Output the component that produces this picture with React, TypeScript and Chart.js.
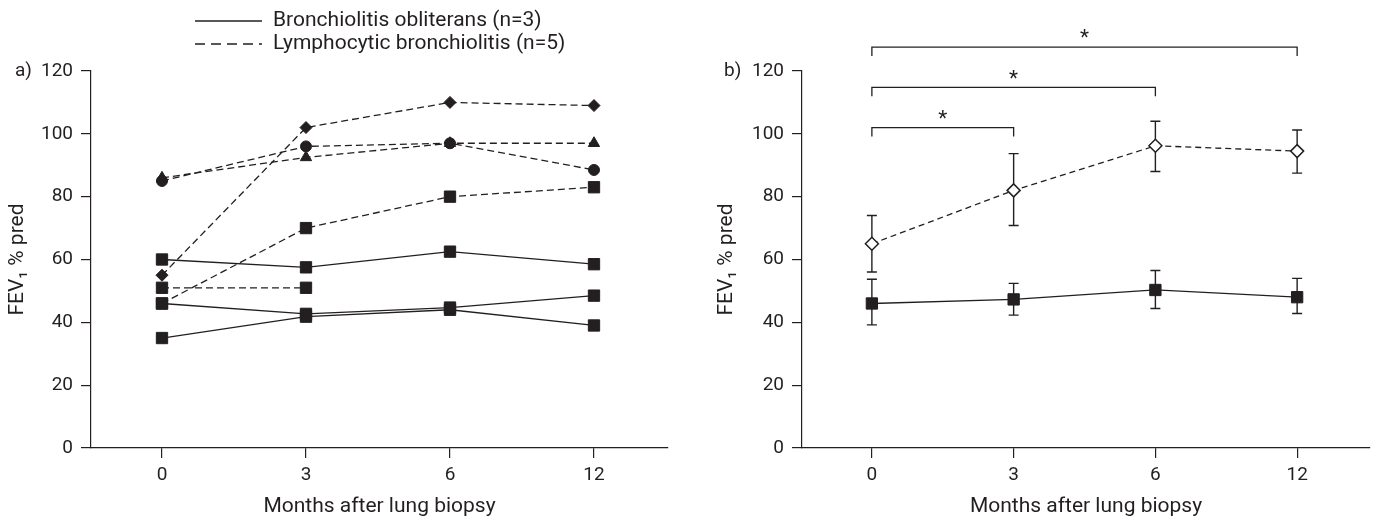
import React, { useEffect, useRef } from "react";
import { Chart, registerables } from "chart.js";
Chart.register(...registerables);

// ---------- data ----------
const months = ["0", "3", "6", "12"];
const yTicks = [0, 20, 40, 60, 80, 100, 120];

// Panel a – lymphocytic bronchiolitis patients (dashed)
const lbDiamond = [55, 102, 110, 109];
const lbCircle = [85, 96, 97, 88.5];
const lbTriangle = [86, 92.5, 97, 97];
const lbSquareA = [46, 70, 80, 83];
const lbSquareB = [51, 51, null, null];
// Panel a – bronchiolitis obliterans patients (solid)
const boA = [60, 57.5, 62.5, 58.5];
const boB = [46, 42.7, 44.7, 48.5];
const boC = [35, 41.8, 44, 39];

// Panel b – group means with error bars
const lbMean = [65, 82, 96.2, 94.5];
const lbLow = [56, 70.8, 88, 87.5];
const lbHigh = [74, 93.7, 104, 101.2];
const boMean = [46, 47.3, 50.3, 48];
const boLow = [39.2, 42.3, 44.4, 42.8];
const boHigh = [53.7, 52.4, 56.5, 54];

// significance brackets (from index, to index, level)
const sigFrom = [0, 0, 0];
const sigTo = [1, 2, 3];
const sigLevel = [102, 114.8, 127.6];
const sigLabel = ["*", "*", "*"];

const legendLabels = ["Bronchiolitis obliterans (n=3)", "Lymphocytic bronchiolitis (n=5)"];
const panelLabels = ["a)", "b)"];
const xTitle = "Months after lung biopsy";
const yTitle = "FEV\u2081 % pred";

// ---------- style ----------
const INK = "#231f20";
const FONT = "Roboto, 'DejaVu Sans', sans-serif";
const FS_TICK = 19;
const FS_TITLE = 21;
const FS_LEGEND = 21;
const DASH = [7, 4];

Chart.defaults.font.family = FONT;
Chart.defaults.color = INK;

const toXY = (arr: (number | null)[]) => arr.map((v, i) => ({ x: i, y: v }));

function makeScales(yAxisWidth: number, yTitlePad: number) {
  return {
    x: {
      type: "linear" as const,
      min: -0.493,
      max: 3.514,
      afterBuildTicks: (s: any) => {
        s.ticks = months.map((_, i) => ({ value: i }));
      },
      afterFit: (s: any) => {
        s.height = 69;
      },
      ticks: {
        callback: (v: any) => months[v] ?? "",
        font: { size: FS_TICK },
        color: INK,
        padding: 6,
        maxRotation: 0,
      },
      grid: { drawOnChartArea: false, drawTicks: true, tickLength: 10, color: INK, lineWidth: 1.2 },
      border: { display: true, color: INK, width: 1.2 },
      title: { display: true, text: xTitle, font: { size: FS_TITLE }, color: INK, padding: { top: 0, bottom: -2 } },
    },
    y: {
      type: "linear" as const,
      min: 0,
      max: 120,
      afterBuildTicks: (s: any) => {
        s.ticks = yTicks.map((v) => ({ value: v }));
      },
      afterFit: (s: any) => {
        s.width = yAxisWidth;
      },
      ticks: { font: { size: FS_TICK }, color: INK, padding: 8 },
      grid: { drawOnChartArea: false, drawTicks: true, tickLength: 10, color: INK, lineWidth: 1.2 },
      border: { display: true, color: INK, width: 1.2 },
      title: { display: true, text: yTitle, font: { size: FS_TITLE }, color: INK, padding: { top: yTitlePad, bottom: 0 } },
    },
  };
}

const panelLabelPlugin = (label: string, x: number) => ({
  id: "panelLabel" + label,
  afterDraw(chart: any) {
    const ctx = chart.ctx;
    const y = chart.scales.y.getPixelForValue(120);
    ctx.save();
    ctx.font = `${FS_TICK}px ${FONT}`;
    ctx.fillStyle = INK;
    ctx.textBaseline = "middle";
    ctx.textAlign = "left";
    ctx.fillText(label, x, y);
    ctx.restore();
  },
});

const legendPlugin = {
  id: "customLegend",
  afterDraw(chart: any) {
    const ctx = chart.ctx;
    ctx.save();
    ctx.font = `${FS_LEGEND}px ${FONT}`;
    ctx.fillStyle = INK;
    ctx.strokeStyle = INK;
    ctx.lineWidth = 1.3;
    ctx.textBaseline = "middle";
    ctx.textAlign = "left";
    const rows = [21, 44];
    legendLabels.forEach((t, i) => {
      ctx.setLineDash(i === 0 ? [] : [10, 6]);
      ctx.beginPath();
      ctx.moveTo(195, rows[i]);
      ctx.lineTo(262, rows[i]);
      ctx.stroke();
      ctx.fillText(t, 273, rows[i]);
    });
    ctx.restore();
  },
};

const errorBarPlugin = {
  id: "errorBars",
  beforeDatasetsDraw(chart: any) {
    const ctx = chart.ctx;
    const xs = chart.scales.x;
    const ys = chart.scales.y;
    ctx.save();
    ctx.strokeStyle = INK;
    ctx.lineWidth = 1.4;
    ctx.setLineDash([]);
    const draw = (lo: number[], hi: number[]) => {
      lo.forEach((l, i) => {
        const x = xs.getPixelForValue(i);
        const y1 = ys.getPixelForValue(l);
        const y2 = ys.getPixelForValue(hi[i]);
        ctx.beginPath();
        ctx.moveTo(x, y1);
        ctx.lineTo(x, y2);
        ctx.moveTo(x - 5, y1);
        ctx.lineTo(x + 5, y1);
        ctx.moveTo(x - 5, y2);
        ctx.lineTo(x + 5, y2);
        ctx.stroke();
      });
    };
    draw(lbLow, lbHigh);
    draw(boLow, boHigh);
    ctx.restore();
  },
};

const bracketPlugin = {
  id: "brackets",
  afterDraw(chart: any) {
    const ctx = chart.ctx;
    const xs = chart.scales.x;
    const ys = chart.scales.y;
    ctx.save();
    ctx.strokeStyle = INK;
    ctx.fillStyle = INK;
    ctx.lineWidth = 1.3;
    ctx.font = `${FS_TITLE}px ${FONT}`;
    ctx.textAlign = "center";
    ctx.textBaseline = "middle";
    sigLevel.forEach((lvl, i) => {
      const x1 = xs.getPixelForValue(sigFrom[i]);
      const x2 = xs.getPixelForValue(sigTo[i]);
      const y = ys.getPixelForValue(lvl);
      ctx.beginPath();
      ctx.moveTo(x1, y + 9);
      ctx.lineTo(x1, y);
      ctx.lineTo(x2, y);
      ctx.lineTo(x2, y + 9);
      ctx.stroke();
      ctx.fillText(sigLabel[i], (x1 + x2) / 2, y - 8);
    });
    ctx.restore();
  },
};

function dashedDs(data: (number | null)[], style: string, radius: number) {
  return {
    data: toXY(data),
    borderColor: INK,
    borderWidth: 1.3,
    borderDash: DASH,
    pointStyle: style,
    pointRadius: radius,
    pointBackgroundColor: INK,
    pointBorderColor: INK,
    pointBorderWidth: 1,
    showLine: true,
    spanGaps: false,
    clip: false,
  };
}
function solidDs(data: (number | null)[], style: string, radius: number) {
  return { ...dashedDs(data, style, radius), borderDash: [] };
}

function PanelA() {
  const ref = useRef<HTMLCanvasElement>(null);
  useEffect(() => {
    const chart = new Chart(ref.current!, {
      type: "line",
      data: {
        datasets: [
          solidDs(boA, "rect", 8),
          solidDs(boB, "rect", 8),
          solidDs(boC, "rect", 8),
          dashedDs(lbSquareB, "rect", 8),
          dashedDs(lbSquareA, "rect", 8),
          dashedDs(lbTriangle, "triangle", 6.5),
          dashedDs(lbCircle, "circle", 5.5),
          dashedDs(lbDiamond, "rectRot", 6),
        ] as any,
      },
      options: {
        responsive: false,
        animation: false,
        layout: { padding: { top: 71, right: 22, bottom: 0, left: 0 } },
        plugins: { legend: { display: false }, tooltip: { enabled: false } },
        scales: makeScales(91, 5.5) as any,
      },
      plugins: [legendPlugin, panelLabelPlugin(panelLabels[0], 15)],
    });
    return () => chart.destroy();
  }, []);
  return <canvas ref={ref} width={690} height={517} style={{ position: "absolute", left: 0, top: 0 }} />;
}

function PanelB() {
  const ref = useRef<HTMLCanvasElement>(null);
  useEffect(() => {
    const chart = new Chart(ref.current!, {
      type: "line",
      data: {
        datasets: [
          {
            ...dashedDs(lbMean, "rectRot", 6.5),
            borderDash: [6, 4],
            pointBackgroundColor: "#ffffff",
            pointBorderWidth: 1.5,
          },
          solidDs(boMean, "rect", 8),
        ] as any,
      },
      options: {
        responsive: false,
        animation: false,
        layout: { padding: { top: 71, right: 0, bottom: 0, left: 0 } },
        plugins: { legend: { display: false }, tooltip: { enabled: false } },
        scales: makeScales(112, 24.5) as any,
      },
      plugins: [errorBarPlugin, bracketPlugin, panelLabelPlugin(panelLabels[1], 34)],
    });
    return () => chart.destroy();
  }, []);
  return <canvas ref={ref} width={689} height={517} style={{ position: "absolute", left: 690, top: 0 }} />;
}

export default function App() {
  return (
    <div style={{ position: "fixed", left: 0, top: 0, width: 1379, height: 517, background: "#fff" }}>
      <PanelA />
      <PanelB />
    </div>
  );
}
